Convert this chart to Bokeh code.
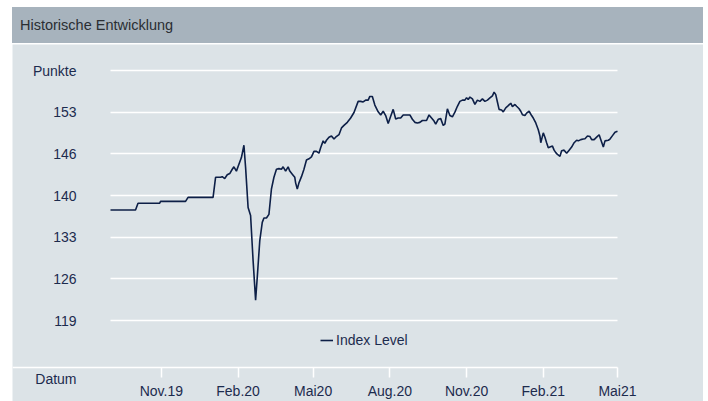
import pandas as pd
from bokeh.plotting import figure
from bokeh.models import (FixedTicker, Legend, LegendItem, Div, Spacer, ColumnDataSource)
from bokeh.layouts import column, row
from bokeh.embed import file_html
from bokeh.resources import INLINE

# ---- data ----
start_date = "2019-09-01"
day_offsets = [0, 30, 33, 59, 60, 90, 93, 123,
               126, 132, 134, 137, 140, 143, 146, 148, 151, 154, 157, 160, 162, 165, 168, 171, 174, 176,
               179, 182, 184, 187, 190, 193, 196, 199, 202, 205, 207, 210, 213, 215, 218, 221, 222, 224,
               226, 229, 232, 235, 238, 241, 244, 247, 250, 252, 255, 257, 259, 262, 265, 268, 270, 274,
               277, 280, 284, 288, 292, 297, 300, 303, 306, 309, 311, 314, 317, 321, 324, 327, 330, 333,
               336, 339, 342, 345, 348, 351, 354, 359, 362, 365, 368, 371, 374, 379, 382, 385, 388, 390,
               393, 396, 399, 401, 404, 407, 410, 413, 416, 419, 422, 425, 427, 429, 431, 434, 437, 440,
               443, 446, 449, 452, 455, 458, 460, 462, 464, 466, 469, 471, 474, 477, 480, 482, 485, 487,
               490, 492, 494, 497, 499, 502, 505, 507, 510, 513, 515, 516, 519, 521, 523, 525, 527, 530,
               532, 534, 536, 539, 541, 544, 547, 550, 553, 556, 559, 561, 564, 567, 569, 572, 575, 577,
               580, 583, 586, 588, 590, 591, 593, 597, 599, 602, 605, 608]
index_level = [137.2, 137.2, 138.3, 138.3, 138.6, 138.6, 139.25, 139.25,
               142.5, 142.5, 142.6, 142.3, 142.9, 143.1, 143.8, 144.2, 143.5, 144.6, 145.7, 147.7, 144.1,
               137.6, 136.3, 129.0, 122.6, 126.3,
               132.2, 135.2, 135.9, 135.9, 136.5, 140.6, 142.5, 143.8, 143.9, 143.8, 144.2, 143.5, 144.2,
               143.5, 143.0, 142.5, 141.6, 140.6,
               141.6, 142.6, 143.8, 145.3, 145.5, 145.8, 146.7, 146.7, 146.4, 147.3, 148.4, 148.0, 148.5,
               149.0, 149.2, 148.7, 149.0, 149.4,
               150.5, 150.9, 151.4, 152.1, 153.0, 154.8, 154.8, 154.7, 155.0, 155.0, 155.6, 155.6, 154.2,
               153.1, 152.6, 153.2, 152.5, 151.2,
               152.4, 153.5, 151.95, 152.1, 152.1, 152.6, 152.6, 152.6, 151.9, 151.4, 151.3, 151.4, 151.7,
               151.7, 152.6, 152.1, 151.6, 151.1,
               151.9, 152.0, 150.9, 151.1, 153.6, 152.5, 152.3, 153.05, 154.0, 154.8, 155.0, 155.0, 155.4,
               155.1, 155.5, 155.2, 154.3, 155.0,
               154.8, 155.2, 154.8, 155.0, 155.35, 155.7, 156.3, 155.9, 154.7, 153.5, 153.4, 153.1, 153.75,
               154.1, 154.5, 153.95, 154.3, 154.0,
               153.6, 153.2, 152.65, 152.5, 152.9, 153.2, 152.5, 152.1, 151.3, 150.2, 149.2, 148.1, 149.7,
               149.0, 148.1, 147.3, 147.4, 147.55,
               146.9, 146.5, 146.2, 145.9, 146.8, 146.9, 146.4, 146.9, 147.4, 148.1, 148.5, 148.4, 148.6,
               148.7, 148.75, 149.2, 149.1, 148.6,
               148.6, 149.0, 149.4, 148.6, 147.8, 147.4, 148.4, 148.5, 148.7, 149.25, 149.8, 149.95]
series_name = "Index Level"

x_tick_dates = ["2019-11-01", "2020-02-01", "2020-05-01", "2020-08-01",
                "2020-11-01", "2021-02-01", "2021-05-01"]
x_tick_labels = ["Nov.19", "Feb.20", "Mai20", "Aug.20", "Nov.20", "Feb.21", "Mai21"]
y_tick_values = [119.3, 126.05, 132.8, 139.55, 146.3, 153.05, 159.8]
y_tick_labels = ["119", "126", "133", "140", "146", "153", "Punkte"]
y_axis_title = "Datum"

# ---- layout / styling constants ----
FONT = "Liberation Sans"
PANEL = "#dce3e7"
BAR = "#a7b3bd"
TEXT = "#1c2b4e"
LINE = "#0d1f47"

FIG_W, FIG_H = 691, 357          # chart panel size in px
PLOT_LEFT = 98                   # px from panel left to where the data starts
PLOT_RIGHT = 86                  # px from data end to panel right
AXIS_FROM_BOTTOM = 34            # px from panel bottom to x-axis line
DATUM_FROM_BOTTOM = 23           # px from panel bottom to the "Datum" label
GRID_TOP_FROM_TOP = 26           # px from panel top to the top grid line

dates = pd.Timestamp(start_date) + pd.to_timedelta(day_offsets, unit="D")
src = ColumnDataSource(data=dict(date=dates, value=index_level))

d0 = pd.Timestamp(start_date)
d1 = d0 + pd.Timedelta(days=max(day_offsets))
data_w = FIG_W - PLOT_LEFT - PLOT_RIGHT
ms_per_px = (d1 - d0) / pd.Timedelta(milliseconds=1) / data_w
to_ms = lambda t: t.value / 1e6
x_lo = to_ms(d0) - PLOT_LEFT * ms_per_px
x_data_end = to_ms(d1)

grid = None
has_cross = "cross_bounds" in figure().ygrid[0].properties()
x_hi = to_ms(d1) + PLOT_RIGHT * ms_per_px if has_cross else x_data_end

# y: grid span from top grid line down to the lowest grid line
y_top_tick, y_bot_tick = y_tick_values[-1], y_tick_values[0]
grid_px = (FIG_H - AXIS_FROM_BOTTOM) - GRID_TOP_FROM_TOP - 47  # lowest grid line is 47px above axis
units_per_px = (y_top_tick - y_bot_tick) / grid_px
y_hi = y_top_tick + GRID_TOP_FROM_TOP * units_per_px
y_lo = y_hi - FIG_H * units_per_px
y_axis_at = y_lo + AXIS_FROM_BOTTOM * units_per_px
y_datum = y_lo + DATUM_FROM_BOTTOM * units_per_px

p = figure(width=FIG_W, height=FIG_H, x_axis_type="datetime",
           x_range=(x_lo, x_hi), y_range=(y_lo, y_hi),
           output_backend="svg", toolbar_location=None,
           min_border=0, min_border_right=0 if has_cross else PLOT_RIGHT, margin=0)
p.background_fill_color = PANEL
p.border_fill_color = PANEL
p.outline_line_color = None

r = p.line("date", "value", source=src, line_color=LINE, line_width=1.6)

# x axis (drawn inside the panel at a fixed height)
tick_ms = [to_ms(pd.Timestamp(d)) for d in x_tick_dates]
xa = p.xaxis[0]
xa.fixed_location = y_axis_at
xa.bounds = (x_lo, x_data_end)
xa.ticker = FixedTicker(ticks=tick_ms)
xa.major_label_overrides = {t: l for t, l in zip(tick_ms, x_tick_labels)}
xa.axis_line_color = "white"
xa.axis_line_width = 1.5
xa.major_tick_line_color = "white"
xa.major_tick_line_width = 1.5
xa.major_tick_in = 0
xa.major_tick_out = 10
xa.minor_tick_line_color = None
xa.major_label_standoff = 5
xa.major_label_text_font = FONT
xa.major_label_text_font_size = "14px"
xa.major_label_text_color = TEXT

# y axis (labels left of the data start)
ya = p.yaxis[0]
ya.fixed_location = to_ms(d0)
y_axis_ticks = [y_datum] + y_tick_values
y_axis_labels = [y_axis_title] + y_tick_labels
ya.ticker = FixedTicker(ticks=y_axis_ticks)
ya.major_label_overrides = {t: l for t, l in zip(y_axis_ticks, y_axis_labels)}
ya.axis_line_color = None
ya.major_tick_line_color = None
ya.minor_tick_line_color = None
ya.major_tick_in = 0
ya.major_tick_out = 0
ya.major_label_standoff = 34
ya.major_label_text_font = FONT
ya.major_label_text_font_size = "14px"
ya.major_label_text_color = TEXT

p.xgrid.grid_line_color = None
p.ygrid.ticker = FixedTicker(ticks=y_tick_values)
if has_cross:
    p.ygrid.cross_bounds = (to_ms(d0), x_data_end)
p.ygrid.grid_line_color = "white"
p.ygrid.grid_line_width = 1.5

# legend
legend = Legend(items=[LegendItem(label=series_name, renderers=[r])],
                location=(308, 53), orientation="horizontal",
                background_fill_alpha=0, border_line_color=None,
                padding=0, margin=0, glyph_width=13, glyph_height=14,
                label_standoff=3, label_text_font=FONT,
                label_text_font_size="14px", label_text_color=TEXT)
p.add_layout(legend, "center")

title = Div(text='<div style="padding-left:8px">Historische Entwicklung</div>',
            width=FIG_W, height=36, margin=0,
            styles={"background-color": BAR, "line-height": "36px",
                    "font-family": FONT, "font-size": "14.5px", "color": "#2a2e33"})

layout = column(Spacer(width=10, height=7, margin=0),
                row(Spacer(width=12, height=10, margin=0),
                    column(title, p, spacing=1, margin=0), margin=0),
                margin=0)

open("out.html", "w").write(file_html(layout, INLINE))
